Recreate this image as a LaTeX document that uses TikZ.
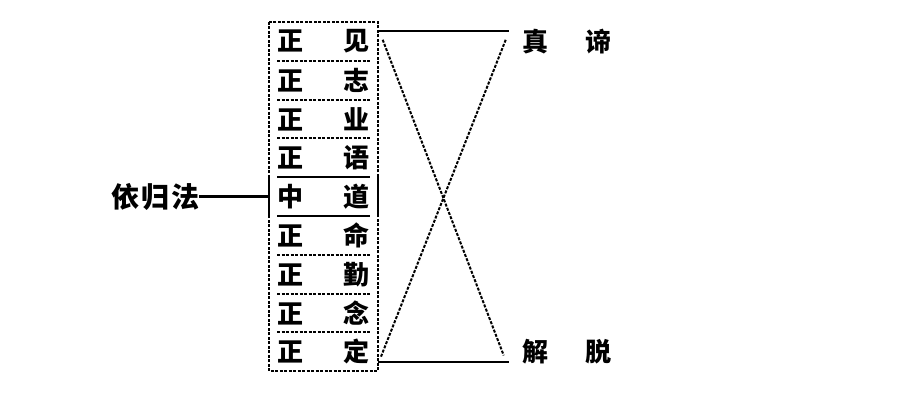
\documentclass[tikz,border=0pt]{standalone}
\usepackage{fontspec}
\newfontfamily\cjk{Noto Sans CJK SC}
\usetikzlibrary{positioning,fit}

\begin{document}
\begin{tikzpicture}[x=1pt,y=1pt,
        every node/.style={font=\cjk\bfseries\fontsize{26}{26}\selectfont, inner sep=0pt},
        row/.style={minimum height=38.8pt, text width=93pt, outer sep=0pt},
        dots/.style={line width=2pt, dash pattern=on 3pt off 1.5pt},
        rule/.style={line width=2.2pt}]
            \useasboundingbox (0,0) rectangle (922,409);

            \node (r1) [row] at (323.5,367.6) {正\hfill 见};
            \node (r2) [row, below=0pt of r1] {正\hfill 志};
            \node (r3) [row, below=0pt of r2] {正\hfill 业};
            \node (r4) [row, below=0pt of r3] {正\hfill 语};
            \node (r5) [row, below=0pt of r4] {中\hfill 道};
            \node (r6) [row, below=0pt of r5] {正\hfill 命};
            \node (r7) [row, below=0pt of r6] {正\hfill 勤};
            \node (r8) [row, below=0pt of r7] {正\hfill 念};
            \node (r9) [row, below=0pt of r8] {正\hfill 定};
            \node (box) [fit=(r1)(r9), inner xsep=7.5pt, inner ysep=0pt] {};

            \node (zd) [right=152pt of r1] {真\hspace{1.45em}谛};
            \node (jt) [right=152pt of r9] {解\hspace{1.45em}脱};
            \node (yg) [left=70pt of box, font=\cjk\bfseries\fontsize{28}{28}\selectfont] {依\hspace{2pt}归\hspace{2pt}法};

            \draw[dots] (box.north west) rectangle (box.south east);
            \draw[dots] (r1.south west) -- (r1.south east);
            \draw[dots] (r2.south west) -- (r2.south east);
            \draw[dots] (r3.south west) -- (r3.south east);
            \draw[rule] (r4.south west) -- (r4.south east);
            \draw[rule] (r5.south west) -- (r5.south east);
            \draw[dots] (r6.south west) -- (r6.south east);
            \draw[dots] (r7.south west) -- (r7.south east);
            \draw[dots] (r8.south west) -- (r8.south east);
            \draw[rule] (box.west |- r5.north) -- (box.west |- r5.south);
            \draw[rule] (box.east |- r5.north) -- (box.east |- r5.south);

            \draw[rule] (yg.east) -- (box.west);

            \coordinate (t0) at ([yshift=-9pt]box.north east);
            \coordinate (t1) at ([xshift=131pt]t0);
            \coordinate (b0) at ([yshift=9pt]box.south east);
            \coordinate (b1) at ([xshift=131pt]b0);
            \coordinate (c1) at ([shift={(5,-18)}]box.north east);
            \coordinate (c2) at ([shift={(128,-18)}]box.north east);
            \coordinate (c3) at ([shift={(3,14)}]box.south east);
            \coordinate (c4) at ([shift={(126,16)}]box.south east);

            \draw[rule] (t0) -- (t1);
            \draw[rule] (b0) -- (b1);
            \draw[dots] (c1) -- (c4);
            \draw[dots] (c2) -- (c3);
        \end{tikzpicture}
\end{document}
